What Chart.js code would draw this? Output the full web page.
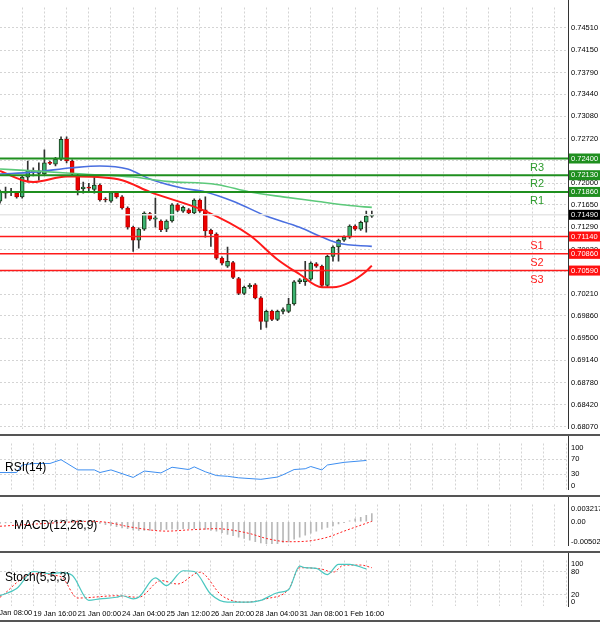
<!DOCTYPE html>
<html><head><meta charset="utf-8">
<script src="https://cdn.jsdelivr.net/npm/chart.js@4.4.1/dist/chart.umd.min.js"></script>
<style>
body{margin:0;background:#fff;width:600px;height:622px;overflow:hidden;position:relative}
canvas{position:absolute;left:0}
</style></head><body>
<canvas id="main" width="600" height="436" style="top:0"></canvas>
<canvas id="rsi" width="600" height="61" style="top:436px"></canvas>
<canvas id="macd" width="600" height="56" style="top:497px"></canvas>
<canvas id="stoch" width="600" height="69" style="top:553px"></canvas>
<script>
const opens=[0.7171,0.7184,0.7186,0.7184,0.7178,0.7210,0.7220,0.7216,0.7215,0.7234,0.7231,0.7239,0.7271,0.7236,0.7213,0.7191,0.7194,0.7190,0.7197,0.7174,0.7171,0.7184,0.7178,0.7160,0.7129,0.7108,0.7126,0.7151,0.7142,0.7139,0.7126,0.7139,0.7165,0.7155,0.7157,0.7152,0.7173,0.7157,0.7124,0.7118,0.7079,0.7066,0.7072,0.7046,0.7022,0.7033,0.7036,0.7015,0.6977,0.6993,0.6980,0.6993,0.6993,0.7005,0.7041,0.7041,0.7045,0.7070,0.7066,0.7035,0.7082,0.7097,0.7108,0.7113,0.7131,0.7126,0.7137,0.7147];
const closes=[0.7186,0.7186,0.7185,0.7178,0.7210,0.7220,0.7218,0.7220,0.7233,0.7232,0.7239,0.7271,0.7236,0.7215,0.7189,0.7194,0.7192,0.7197,0.7173,0.7173,0.7185,0.7178,0.7160,0.7129,0.7108,0.7126,0.7152,0.7142,0.7144,0.7125,0.7139,0.7165,0.7156,0.7161,0.7152,0.7173,0.7155,0.7123,0.7118,0.7079,0.7071,0.7074,0.7048,0.7022,0.7032,0.7035,0.7015,0.6977,0.6993,0.6980,0.6993,0.6996,0.7005,0.7041,0.7044,0.7046,0.7071,0.7066,0.7035,0.7082,0.7097,0.7108,0.7113,0.7131,0.7126,0.7137,0.7147,0.7149];
const highs=[0.7189,0.7194,0.7192,0.7186,0.7212,0.7236,0.7225,0.7233,0.7254,0.7236,0.7242,0.7275,0.7275,0.7238,0.7215,0.7202,0.7200,0.7210,0.7199,0.7177,0.7187,0.7186,0.7180,0.7162,0.7131,0.7128,0.7154,0.7153,0.7176,0.7141,0.7141,0.7167,0.7167,0.7163,0.7159,0.7175,0.7175,0.7178,0.7126,0.7120,0.7081,0.7097,0.7074,0.7048,0.7034,0.7038,0.7038,0.7017,0.6995,0.6995,0.6995,0.6999,0.7014,0.7043,0.7046,0.7074,0.7073,0.7072,0.7068,0.7084,0.7099,0.7110,0.7115,0.7133,0.7133,0.7139,0.7155,0.7155];
const lows=[0.7168,0.7176,0.7180,0.7176,0.7176,0.7202,0.7212,0.7205,0.7214,0.7230,0.7228,0.7237,0.7233,0.7212,0.7181,0.7184,0.7188,0.7184,0.7171,0.7170,0.7169,0.7176,0.7158,0.7126,0.7090,0.7095,0.7124,0.7140,0.7129,0.7122,0.7122,0.7137,0.7154,0.7153,0.7150,0.7150,0.7153,0.7113,0.7098,0.7077,0.7068,0.7064,0.7046,0.7020,0.7020,0.7030,0.7013,0.6964,0.6967,0.6978,0.6978,0.6989,0.6991,0.7003,0.7038,0.7035,0.7043,0.7064,0.7033,0.7033,0.7074,0.7074,0.7106,0.7111,0.7124,0.7124,0.7121,0.7145];

const maFastIdx=[0,4,6,12,14,22,27,37,45,50,54,58,60,63,66,67];
const maFast=[0.7220,0.7205,0.7202,0.7211,0.7211,0.7205,0.7186,0.7155,0.7116,0.7077,0.7053,0.7032,0.7032,0.7040,0.7058,0.7067];
const maMidIdx=[0,6,13,18,23,27,33,37,42,48,54,58,61,67];
const maMid=[0.7215,0.7218,0.7225,0.7228,0.7223,0.7207,0.7192,0.7186,0.7171,0.7147,0.7129,0.7113,0.7103,0.7098];
const maSlowIdx=[0,6,15,24,30,39,45,51,57,63,67];
const maSlow=[0.7223,0.7220,0.7215,0.7210,0.7203,0.7198,0.7186,0.7178,0.7171,0.7164,0.7161];

const resist=[0.7240,0.7213,0.7186], resistNames=['R3','R2','R1'];
const support=[0.7114,0.7086,0.7059], supportNames=['S1','S2','S3'];
const lastPrice=0.7149;
const priceTicks=[0.74510,0.74150,0.73790,0.73440,0.73080,0.72720,0.72360,0.72000,0.71650,0.71290,0.70930,0.70570,0.70210,0.69860,0.69500,0.69140,0.68780,0.68420,0.68070];

const rsiIdx=[0,3,4,6,9,11,14,17,18,20,24,26,29,31,34,35,37,39,41,43,47,50,51,53,55,56,58,59,62,66];
const rsiVals=[35,35,55,59,59,69,42,42,35,42,22,39,34,49,43,50,37,27,25,21,17,23,29,43,45,51,42,55,62,67];

const macdHist=[-4,-3,-2,-2,-1,-1,0,1,2,4,4,5,6,5,4,2,0,-2,-4,-7,-9,-12,-15,-17,-20,-21,-21,-21,-20,-20,-19,-18,-18,-17,-17,-17,-18,-19,-21,-23,-27,-31,-34,-38,-41,-45,-49,-52,-54,-54,-54,-51,-48,-43,-38,-33,-28,-23,-18,-14,-10,-5,-2,2,7,11,16,20].map(v=>v/10000);
const macdSigIdx=[0,11,16,19,24,30,34,39,41,45,48,52,55,59,62,67];
const macdSig=[-11,-2,1,-1,-14,-23,-20,-17,-19,-29,-41,-49,-48,-38,-23,1].map(v=>v/10000);

const stMainIdx=[0,3,6,9,11,13,16,18,21,22,24,25,28,30,33,35,38,41,44,47,50,52,54,55,57,59,61,63,66];
const stMain=[17,36,81,75,78,71,5,9,13,17,9,13,64,44,83,81,21,0,0,5,25,33,95,91,89,73,100,100,88];
const stSigIdx=[0,6,11,14,21,25,29,32,36,40,44,48,52,54,58,60,62,65,67];
const stSig=[13,75,67,11,17,13,57,48,79,17,0,9,34,91,87,79,98,98,91];

const dateIdx=[-2,6,14,22,30,38,46,54,62];
const dateLabels=['18 Jan 08:00','19 Jan 16:00','21 Jan 00:00','24 Jan 04:00','25 Jan 12:00','26 Jan 20:00','28 Jan 04:00','31 Jan 08:00','1 Feb 16:00'];

const XMAX=102.35;
const FONT='"Liberation Sans", Arial, sans-serif';
Chart.defaults.font.family=FONT;
Chart.defaults.animation=false;

const pts=(idx,vals)=>idx.map((x,i)=>({x,y:vals[i]}));
function xScale(showLabels){
  return {type:'linear',min:0,max:XMAX,offset:false,
    afterBuildTicks:s=>{const t=[];for(let v=2;v<=XMAX;v+=4)t.push({value:v});s.ticks=t;},
    afterFit:s=>{s.height=showLabels?16:0;},
    grid:{display:true,color:'#d4d4d4',lineWidth:1,drawTicks:false},
    border:{display:false,dash:[2,2]},
    ticks:{display:showLabels,autoSkip:false,maxRotation:0,align:'start',padding:3,color:'#000',font:{size:7.5},
      callback:v=>{const k=dateIdx.indexOf(v);return k>=0?dateLabels[k]:'';}}};
}
function yScale(min,max,ticks,fmt,gridVals){
  return {position:'right',min,max,
    afterBuildTicks:s=>{s.ticks=ticks.map(v=>({value:v}));},
    afterFit:s=>{s.width=32;},
    grid:{drawTicks:false,color:c=>(!gridVals||gridVals.includes(c.tick.value))?'#d4d4d4':'rgba(0,0,0,0)'},
    border:{display:true,color:'#333',width:1,dash:[2,2]},
    ticks:{padding:3,color:'#000',font:{size:7.5},callback:fmt}};
}
const frame={id:'frame',afterDraw(c){const g=c.ctx;g.save();g.strokeStyle='#555';g.lineWidth=2;g.beginPath();g.moveTo(0,c.height-1);g.lineTo(600,c.height-1);g.stroke();
  g.lineWidth=1;g.strokeStyle='#333';g.beginPath();g.moveTo(c.chartArea.right+0.5,0);g.lineTo(c.chartArea.right+0.5,c.chartArea.bottom);g.stroke();g.restore();}};
function label(text,x,y){return {id:'lbl',afterDatasetsDraw(c){const g=c.ctx;g.save();g.font='12px '+FONT;g.fillStyle='#000';g.textBaseline='middle';g.fillText(text,x,y);g.restore();}};}

const hline=(v,color,w)=>({type:'line',data:[{x:0,y:v},{x:XMAX,y:v}],borderColor:color,borderWidth:w,pointRadius:0,order:0});
const srPlugin={id:'sr',afterDraw(c){
  const g=c.ctx,y=c.scales.y,R=c.chartArea.right;g.save();
  g.font='11px '+FONT;g.textAlign='center';g.textBaseline='middle';
  resist.forEach((v,i)=>{g.fillStyle='#2e9b2e';g.fillText(resistNames[i],537,y.getPixelForValue(v)+9);});
  support.forEach((v,i)=>{g.fillStyle='#ff2020';g.fillText(supportNames[i],537,y.getPixelForValue(v)+9);});
  const box=(v,bg)=>{const p=y.getPixelForValue(v);g.fillStyle=bg;g.fillRect(R+1,p-5,31,10);g.fillStyle='#fff';g.font='7.5px '+FONT;g.textAlign='left';g.fillText(v.toFixed(5),R+3,p);};
  resist.forEach(v=>box(v,'#1f8f1f'));support.forEach(v=>box(v,'#ff1010'));box(lastPrice,'#000');
  g.restore();}};
const bodyColors=opens.map((o,i)=>closes[i]>=o?'#3cb371':'#ee0000');
new Chart(document.getElementById('main'),{
  data:{datasets:[
    hline(lastPrice,'#e6e6e6',1.5),
    ...resist.map(v=>hline(v,'#1f8f1f',2)),
    ...support.map(v=>hline(v,'#ff1a1a',1.5)),
    {type:'line',data:pts(maSlowIdx,maSlow),borderColor:'#5cc97a',borderWidth:1.6,pointRadius:0,cubicInterpolationMode:'monotone'},
    {type:'line',data:pts(maMidIdx,maMid),borderColor:'#4a6fe0',borderWidth:1.6,pointRadius:0,cubicInterpolationMode:'monotone'},
    {type:'line',data:pts(maFastIdx,maFast),borderColor:'#ff1a1a',borderWidth:2,pointRadius:0,cubicInterpolationMode:'monotone'},
    {type:'bar',data:opens.map((o,i)=>({x:i,y:[lows[i],highs[i]]})),backgroundColor:'#333',barThickness:1,grouped:false,order:2},
    {type:'bar',data:opens.map((o,i)=>({x:i,y:[o,closes[i]]})),backgroundColor:bodyColors,borderColor:opens.map((o,i)=>closes[i]>=o?'#1a3a1a':'#c00000'),borderWidth:1,borderSkipped:false,barThickness:4,grouped:false,minBarLength:1,order:1}
  ]},
  options:{responsive:false,layout:{padding:0},plugins:{legend:{display:false},tooltip:{enabled:false}},
    scales:{x:xScale(false),y:yScale(0.68039,0.74839,priceTicks,v=>v.toFixed(5))}},
  plugins:[frame,srPlugin]});

new Chart(document.getElementById('rsi'),{
  type:'line',
  data:{datasets:[{data:pts(rsiIdx,rsiVals),borderColor:'#3d8ef0',borderWidth:1,pointRadius:0}]},
  options:{responsive:false,layout:{padding:0},plugins:{legend:{display:false},tooltip:{enabled:false}},
    scales:{x:xScale(false),y:yScale(-10,112,[100,70,30,0],v=>String(v),[70,30])}},
  plugins:[frame,label('RSI(14)',5,32)]});

new Chart(document.getElementById('macd'),{
  data:{datasets:[
    {type:'bar',data:macdHist.map((v,i)=>({x:i,y:v})),backgroundColor:'#b8b8b8',barThickness:1,order:2},
    {type:'line',data:pts(macdSigIdx,macdSig),borderColor:'#ff2020',borderWidth:1,borderDash:[2,2],pointRadius:0,cubicInterpolationMode:'monotone',order:1}
  ]},
  options:{responsive:false,layout:{padding:0},plugins:{legend:{display:false},tooltip:{enabled:false}},
    scales:{x:xScale(false),y:yScale(-0.00583,0.00424,[0.003217,0,-0.005021],v=>v===0?'0.00':v.toFixed(6),[])}},
  plugins:[frame,label('MACD(12,26,9)',14,29)]});

const firstDate={id:'fd',afterDraw(c){const g=c.ctx,x=c.scales.x;g.save();g.font='7.5px '+FONT;g.fillStyle='#000';g.textBaseline='top';g.fillText(dateLabels[0],x.getPixelForValue(dateIdx[0]),c.chartArea.bottom+3);g.restore();}};
new Chart(document.getElementById('stoch'),{
  type:'line',
  data:{datasets:[
    {data:pts(stMainIdx,stMain),borderColor:'#4ac7c0',borderWidth:1.2,pointRadius:0,cubicInterpolationMode:'monotone'},
    {data:pts(stSigIdx,stSig),borderColor:'#ff2020',borderWidth:1,borderDash:[2,2],pointRadius:0,cubicInterpolationMode:'monotone'}
  ]},
  options:{responsive:false,layout:{padding:0},plugins:{legend:{display:false},tooltip:{enabled:false}},
    scales:{x:xScale(true),y:yScale(-10,110,[100,80,20,0],v=>String(v),[80,20])}},
  plugins:[frame,label('Stoch(5,5,3)',5,25),firstDate]});
</script></body></html>
